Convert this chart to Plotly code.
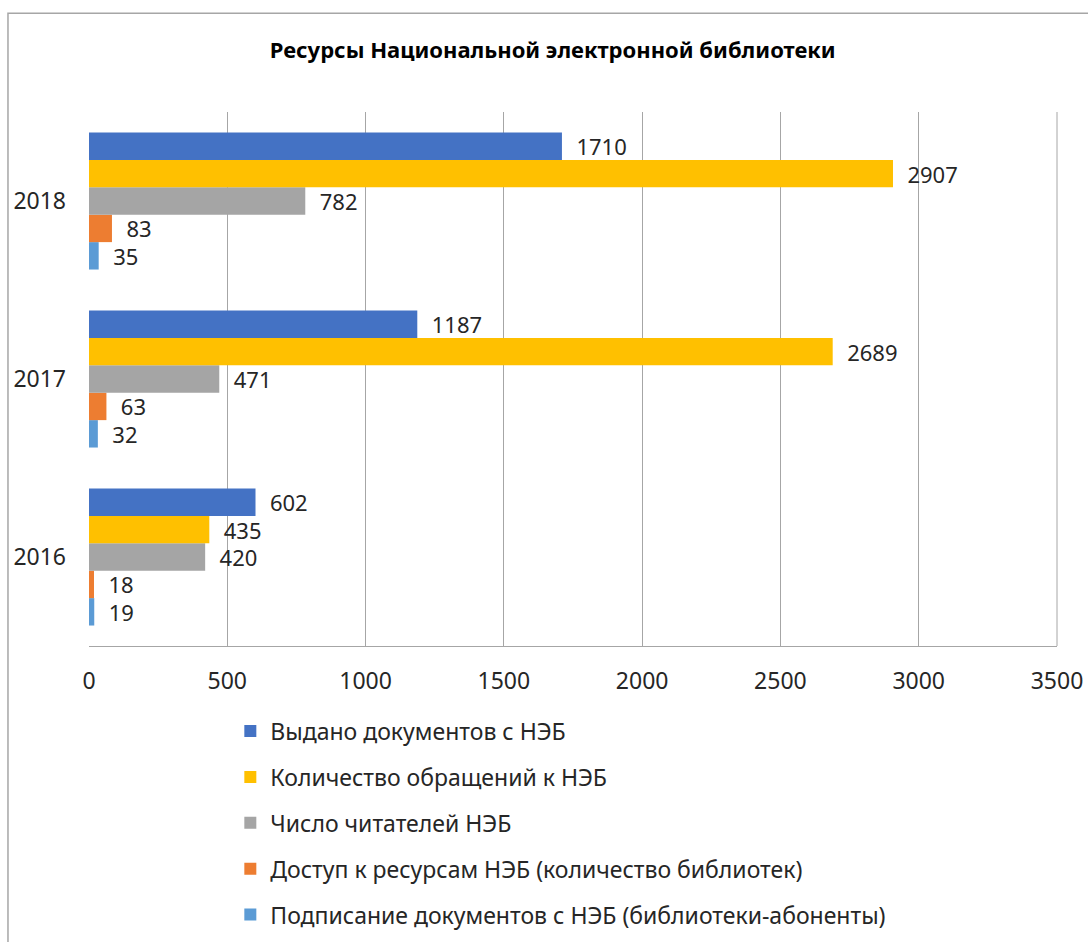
import plotly.graph_objects as go

years = ["2016", "2017", "2018"]

# series, in the order they appear top-to-bottom inside a group
names = [
    "Выдано документов с НЭБ",
    "Количество обращений к НЭБ",
    "Число читателей НЭБ",
    "Доступ к ресурсам НЭБ (количество библиотек)",
    "Подписание документов с НЭБ (библиотеки-абоненты)",
]
issued = [602, 1187, 1710]
requests = [435, 2689, 2907]
readers = [420, 471, 782]
access = [18, 63, 83]
signed = [19, 32, 35]
colors = ["#4472C4", "#FFC000", "#A5A5A5", "#ED7D31", "#5B9BD5"]

series = [issued, requests, readers, access, signed]

fig = go.Figure()
# plotly draws the first horizontal trace lowest in the group, so add in reverse
for i in reversed(range(len(names))):
    fig.add_bar(
        y=years,
        x=series[i],
        name=names[i],
        orientation="h",
        marker_color=colors[i],
        marker_line_width=0,
        text=series[i],
        texttemplate="  %{x}",
        textposition="outside",
        constraintext="none",
        textfont=dict(size=22, color="#262626"),
        cliponaxis=False,
        legendgroup=str(i),
        legendrank=i + 1,
    )

fig.update_layout(
    width=1088,
    height=942,
    paper_bgcolor="white",
    plot_bgcolor="white",
    font=dict(family="Noto Sans, DejaVu Sans, sans-serif", size=23, color="#262626"),
    title=dict(
        text="<b>Ресурсы Национальной электронной библиотеки</b>",
        x=0.508,
        xanchor="center",
        y=0.947,
        yanchor="middle",
        font=dict(size=22, color="#000000"),
    ),
    barmode="group",
    bargap=0.23,
    bargroupgap=0,
    margin=dict(l=89, r=31, t=112, b=296, autoexpand=False),
    showlegend=True,
    legend=dict(
        x=0.146,
        xanchor="left",
        y=-0.119,
        yanchor="top",
        traceorder="grouped",
        tracegroupgap=13,
        font=dict(size=23, color="#262626"),
        itemwidth=30,
    ),
    shapes=[
        dict(
            type="rect",
            xref="paper",
            yref="paper",
            x0=-0.0837,
            x1=1.1,
            y0=-0.7,
            y1=1.185,
            line=dict(color="#A6A6A6", width=1.5),
            fillcolor="rgba(0,0,0,0)",
            layer="below",
        ),
    ],
)

fig.update_xaxes(
    range=[0, 3500],
    dtick=500,
    showgrid=True,
    gridcolor="#A6A6A6",
    gridwidth=1,
    zeroline=False,
    showline=True,
    linecolor="#A6A6A6",
    mirror=False,
    ticks="",
    automargin=False,
    ticklabelstandoff=14,
    tickfont=dict(size=23, color="#262626"),
)
fig.update_yaxes(
    categoryorder="array",
    categoryarray=years,
    showgrid=False,
    showline=False,
    ticks="",
    automargin=False,
    ticklabelstandoff=22,
    tickfont=dict(size=23, color="#262626"),
)
# right border of the plot area
fig.add_shape(
    type="line", xref="paper", yref="paper", x0=1, x1=1, y0=0, y1=1,
    line=dict(color="#A6A6A6", width=1),
)

# drop the browser's default 8px body margin so the figure sits at the page corner
fig.write_html(
    "out.html",
    config={"displayModeBar": False},
    post_script="document.body.style.margin='0px';",
)
